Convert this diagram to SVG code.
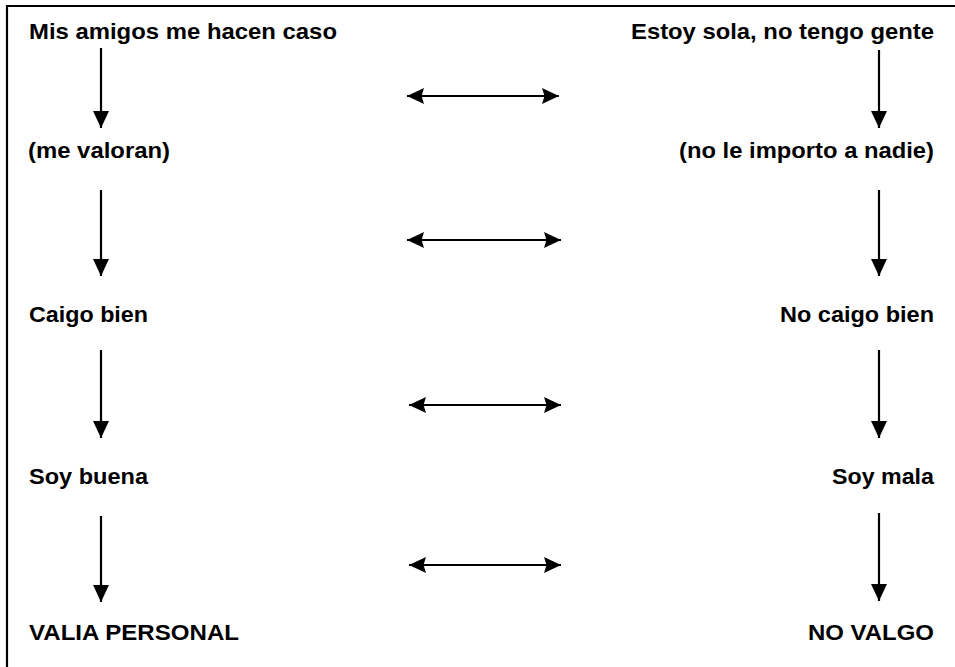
<svg xmlns="http://www.w3.org/2000/svg" width="955" height="667" viewBox="0 0 955 667">
<style>
text{font-family:"Liberation Sans",Arial,sans-serif;font-weight:bold;font-size:22.5px;fill:#000}
.c{stroke:#000;stroke-width:2.2;fill:none}
</style>
<defs>
<marker id="ah" markerUnits="userSpaceOnUse" markerWidth="18" markerHeight="17" refX="17" refY="8" orient="auto-start-reverse" viewBox="0 0 18 17">
<path d="M0,0 L17,8 L0,16 L2.5,8 z" fill="#000"/>
</marker>
<marker id="av" markerUnits="userSpaceOnUse" markerWidth="18" markerHeight="17" refX="17" refY="8" orient="auto" viewBox="0 0 18 17">
<path d="M0,0 L17,8 L0,16 z" fill="#000"/>
</marker>
</defs>
<rect width="955" height="667" fill="#fff"/>
<path d="M7,667 V6 H955" stroke="#000" stroke-width="2.2" fill="none"/>
<g id="l1"><text x="29" y="39" textLength="308" lengthAdjust="spacingAndGlyphs">Mis amigos me hacen caso</text></g>
<g id="r1"><text x="631" y="39" textLength="303" lengthAdjust="spacingAndGlyphs">Estoy sola, no tengo gente</text></g>
<g id="l2"><text x="28" y="158" textLength="142" lengthAdjust="spacingAndGlyphs">(me valoran)</text></g>
<g id="r2"><text x="679" y="158" textLength="255" lengthAdjust="spacingAndGlyphs">(no le importo a nadie)</text></g>
<g id="l3"><text x="29" y="322" textLength="119" lengthAdjust="spacingAndGlyphs">Caigo bien</text></g>
<g id="r3"><text x="780" y="322" textLength="154" lengthAdjust="spacingAndGlyphs">No caigo bien</text></g>
<g id="l4"><text x="29" y="484" textLength="119" lengthAdjust="spacingAndGlyphs">Soy buena</text></g>
<g id="r4"><text x="832" y="484" textLength="102" lengthAdjust="spacingAndGlyphs">Soy mala</text></g>
<g id="l5"><text x="29" y="640" textLength="210" lengthAdjust="spacingAndGlyphs">VALIA PERSONAL</text></g>
<g id="r5"><text x="808" y="640" textLength="126" lengthAdjust="spacingAndGlyphs">NO VALGO</text></g>
<g id="connectors">
<line class="c" x1="101" y1="48" x2="101" y2="128" marker-end="url(#av)"/>
<line class="c" x1="101" y1="190" x2="101" y2="276" marker-end="url(#av)"/>
<line class="c" x1="101" y1="350" x2="101" y2="438" marker-end="url(#av)"/>
<line class="c" x1="101" y1="516" x2="101" y2="602" marker-end="url(#av)"/>
<line class="c" x1="879" y1="50" x2="879" y2="128" marker-end="url(#av)"/>
<line class="c" x1="879" y1="190" x2="879" y2="276" marker-end="url(#av)"/>
<line class="c" x1="879" y1="350" x2="879" y2="438" marker-end="url(#av)"/>
<line class="c" x1="879" y1="513" x2="879" y2="601" marker-end="url(#av)"/>
<line class="c" x1="407" y1="96" x2="559" y2="96" marker-start="url(#ah)" marker-end="url(#ah)"/>
<line class="c" x1="407" y1="240" x2="561" y2="240" marker-start="url(#ah)" marker-end="url(#ah)"/>
<line class="c" x1="409" y1="405" x2="561" y2="405" marker-start="url(#ah)" marker-end="url(#ah)"/>
<line class="c" x1="409" y1="565" x2="561" y2="565" marker-start="url(#ah)" marker-end="url(#ah)"/>
</g>
</svg>
